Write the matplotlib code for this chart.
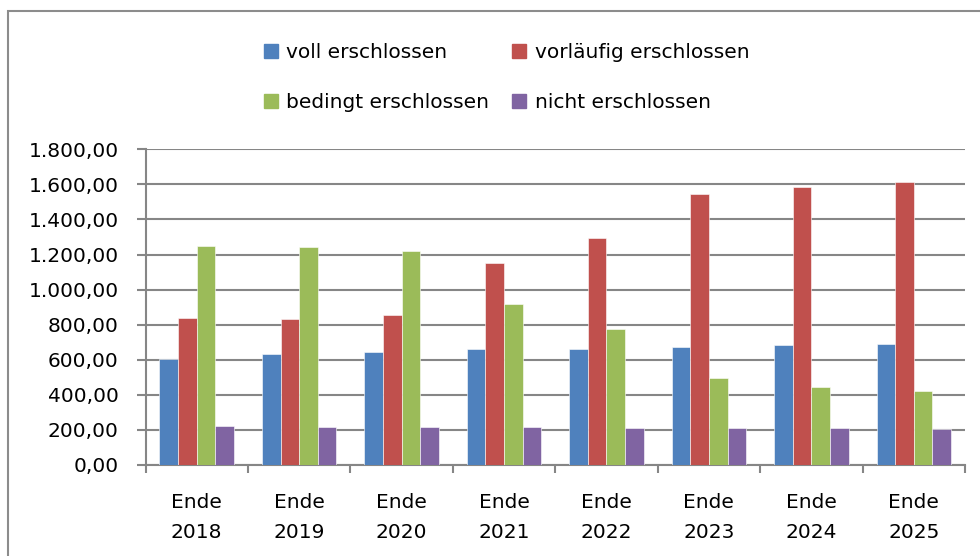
import matplotlib
matplotlib.use("Agg")
import matplotlib.pyplot as plt
from matplotlib.patches import Rectangle, Patch
from matplotlib.ticker import FuncFormatter, FixedLocator
import numpy as np

plt.rcParams['font.family'] = ['DejaVu Sans']

years = ["Ende\n2018", "Ende\n2019", "Ende\n2020", "Ende\n2021",
         "Ende\n2022", "Ende\n2023", "Ende\n2024", "Ende\n2025"]
voll = [606, 635, 643, 660, 663, 673, 683, 690]
vorlaeufig = [836, 833, 855, 1150, 1297, 1546, 1584, 1614]
bedingt = [1251, 1241, 1222, 918, 776, 496, 447, 420]
nicht = [222, 219, 215, 215, 211, 211, 211, 203]

series = [("voll erschlossen", voll, "#4F81BD"),
          ("vorläufig erschlossen", vorlaeufig, "#C0504D"),
          ("bedingt erschlossen", bedingt, "#9BBB59"),
          ("nicht erschlossen", nicht, "#8064A2")]


def de_format(v, pos):
    s = f"{v:,.2f}"
    return s.replace(",", "X").replace(".", ",").replace("X", ".")


W, H = 980, 556
FS = 14.5
fig = plt.figure(figsize=(W / 100, H / 100), dpi=100)

# outer chart frame (clipped at right/bottom like the screenshot)
fig.patches.append(Rectangle((8 / W, -0.1), 1.2, 1 - 11 / H + 0.1,
                             transform=fig.transFigure, fill=False,
                             edgecolor="#8c8c8c", linewidth=1.5))

ax = fig.add_axes([145.5 / W, (H - 465) / H, 819.5 / W, 315.7 / H])

x = np.arange(len(years))
bw = 1 / 5.5
for i, (name, vals, col) in enumerate(series):
    ax.bar(x + (i - 1.5) * bw, vals, width=bw, color=col,
           edgecolor="white", linewidth=0.4, label=name, zorder=3)

ax.set_xlim(-0.5, len(years) - 0.5)
ax.set_ylim(0, 1800)
ax.set_yticks(np.arange(0, 1801, 200))
ax.yaxis.set_major_formatter(FuncFormatter(de_format))
ax.grid(axis="y", color="#868686", linewidth=1.5, zorder=0)

ax.xaxis.set_major_locator(FixedLocator(np.arange(-0.5, len(years), 1)))
ax.xaxis.set_major_formatter(FuncFormatter(lambda v, p: ""))
ax.xaxis.set_minor_locator(FixedLocator(x))
ax.set_xticklabels(years, minor=True)
ax.tick_params(axis="x", which="major", length=6, width=1.5, color="#868686")
ax.tick_params(axis="x", which="minor", length=0, pad=20, labelsize=FS)
ax.tick_params(axis="y", length=6.3, width=1.5, color="#868686", pad=13,
               labelsize=FS)
for lbl in ax.get_xticklabels(minor=True):
    lbl.set_linespacing(1.75)

for s in ["top", "right"]:
    ax.spines[s].set_visible(False)
for s in ["left", "bottom"]:
    ax.spines[s].set_color("#868686")
    ax.spines[s].set_linewidth(1.5)

handles = [Patch(color=c, label=n) for n, _, c in series]
order = [0, 2, 1, 3]
fig.legend([handles[i] for i in order], [series[i][0] for i in order],
           loc="upper left", bbox_to_anchor=(254 / W, 1 - 33 / H),
           ncol=2, frameon=False, fontsize=FS, borderpad=0,
           handlelength=0.7, handleheight=0.7, handletextpad=0.4,
           columnspacing=1.15, labelspacing=1.55)

fig.savefig("out.png", dpi=100)
